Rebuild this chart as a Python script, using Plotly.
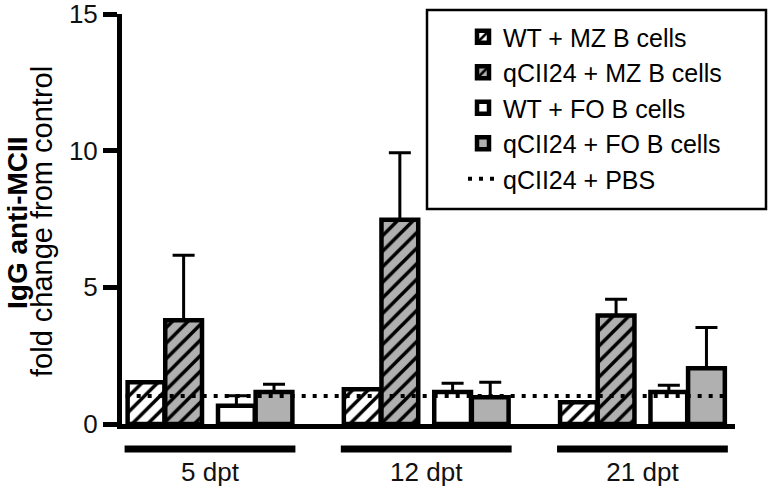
import plotly.graph_objects as go

# ---- data ----
groups = ["5 dpt", "12 dpt", "21 dpt"]
series_names = ["WT + MZ B cells", "qCII24 + MZ B cells", "WT + FO B cells", "qCII24 + FO B cells"]
wt_mz = [1.53, 1.27, 0.80]
wt_mz_err = [0.0, 0.0, 0.0]
q_mz = [3.80, 7.47, 3.97]
q_mz_err = [2.37, 2.45, 0.59]
wt_fo = [0.67, 1.17, 1.17]
wt_fo_err = [0.36, 0.32, 0.25]
q_fo = [1.17, 0.98, 2.04]
q_fo_err = [0.28, 0.55, 1.49]
pbs_level = 1.02
pbs_name = "qCII24 + PBS"
ytick_vals = [0, 5, 10, 15]

# ---- styling ----
FONT = "Liberation Sans, Arial, sans-serif"
GREY = "#b0b0b0"
BAR_W = 0.17
offsets = [-0.296, -0.122, 0.122, 0.296]
series_vals = [wt_mz, q_mz, wt_fo, q_fo]
series_err = [wt_mz_err, q_mz_err, wt_fo_err, q_fo_err]
fills = ["white", GREY, "white", GREY]
hatched = [True, True, False, False]

fig = go.Figure()
gidx = list(range(len(groups)))
for name, vals, errs, fc, hat, off in zip(series_names, series_vals, series_err, fills, hatched, offsets):
    marker = dict(color=fc, line=dict(color="black", width=4.5))
    if hat:
        marker["pattern"] = dict(shape="/", fgcolor="black", bgcolor=fc, size=11, solidity=0.32,
                                 fillmode="replace", fgopacity=1)
    show_err = any(e > 0 for e in errs)
    fig.add_trace(go.Bar(
        x=[g + off for g in gidx], y=vals, width=BAR_W, name=name,
        marker=marker, legendgroup=name,
        error_y=dict(type="data", array=errs, arrayminus=[0] * len(errs), symmetric=False,
                     color="black", thickness=3, width=11, visible=show_err),
    ))

fig.add_trace(go.Scatter(
    x=[gidx[0] - 0.39, gidx[-1] + 0.39], y=[pbs_level, pbs_level], mode="lines",
    line=dict(color="black", width=4, dash="4px,7px"), name=pbs_name, legendgroup=pbs_name,
))

L, T, B = 122, 14, 424
PW, PH = 769 - 122 - 34, B - T
def px(x):
    return (x - L) / PW
def py(y):
    return (B - y) / PH

# group underlines
for g in gidx:
    fig.add_shape(type="line", xref="x", yref="paper", x0=g - 0.395, x1=g + 0.395,
                  y0=py(449), y1=py(449), line=dict(color="black", width=7))

# legend frame
fig.add_shape(type="rect", xref="paper", yref="paper", x0=px(427), x1=px(766), y0=py(209), y1=py(10),
              line=dict(color="black", width=2.5), fillcolor="rgba(0,0,0,0)", layer="above")

# y-axis title (two lines)
fig.add_annotation(xref="paper", yref="paper", x=px(17), y=py(223), text="<b>IgG anti-MCII</b>",
                   textangle=-90, showarrow=False, xanchor="center", yanchor="middle",
                   font=dict(family=FONT, size=28, color="black"))
fig.add_annotation(xref="paper", yref="paper", x=px(42), y=py(222), text="fold change from control",
                   textangle=-90, showarrow=False, xanchor="center", yanchor="middle",
                   font=dict(family=FONT, size=29, color="black"))

fig.update_layout(
    width=769, height=496, autosize=False,
    margin=dict(l=L, r=34, t=T, b=496 - B, autoexpand=False),
    paper_bgcolor="white", plot_bgcolor="white",
    barmode="overlay", showlegend=True,
    font=dict(family=FONT, color="black"),
    legend=dict(x=px(463), y=py(14), xanchor="left", yanchor="top",
                bgcolor="rgba(0,0,0,0)", borderwidth=0,
                font=dict(family=FONT, size=25, color="black"),
                traceorder="normal", tracegroupgap=0),
    xaxis=dict(range=[-0.407, 2.428], tickvals=gidx, ticktext=groups, ticks="",
               showline=True, linecolor="black", linewidth=5, showgrid=False, zeroline=False,
               automargin=False,
               ticklabelstandoff=21, tickfont=dict(family=FONT, size=26, color="#111")),
    yaxis=dict(range=[0, 15], tickvals=ytick_vals, ticks="outside", ticklen=14, tickwidth=5,
               tickcolor="black", showline=True, linecolor="black", linewidth=5,
               ticklabeloverflow="allow", automargin=False,
               showgrid=False, zeroline=False, tickfont=dict(family=FONT, size=26, color="#111")),
)

fig.write_html("out.html", config={"displayModeBar": False},
               post_script="document.body.style.margin='0';document.body.style.overflow='hidden';")
